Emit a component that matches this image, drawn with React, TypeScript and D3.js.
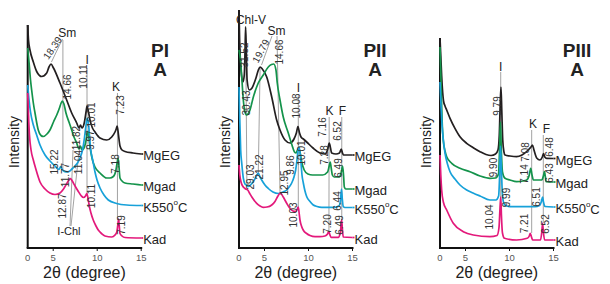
import React from 'react';
import * as d3 from 'd3';

type Pt = [number, number];
type Lab = [string, number, number];
type Guide = [number, number, number, number];

// x axis: the plotted 2θ range starts at ~2.1°, labelled "0" at the axis origin
const tickValues = [2.1, 5, 10, 15];
const tickLabels = ['0', '5', '10', '15'];
const seriesNames = ['MgEG', 'Mgad', 'K550', 'Kad'];
const seriesColors = ['#231f20', '#14934b', '#17a1d9', '#e3197b'];
const panelTitles = ['PI', 'PII', 'PIII'];

// ---------- Panel PI ----------
const p1MgEG: Pt[] = [
  [2.10, 223], [2.19, 208], [2.36, 198], [2.74, 186], [3.12, 176.5], [3.69, 171.5], [4.26, 175],
  [4.52, 181], [4.75, 184], [5.03, 180], [5.77, 165], [6.53, 148], [7.10, 135], [7.67, 125],
  [7.93, 120], [8.10, 123], [8.27, 120], [8.55, 126], [8.73, 136], [8.84, 142], [9.01, 136],
  [9.18, 128], [9.46, 120], [9.75, 116], [10.32, 110], [11.08, 108], [11.65, 111], [12.02, 116],
  [12.16, 119], [12.27, 122], [12.42, 113], [12.59, 102], [12.82, 98], [13.16, 96.5], [14.07, 95],
  [15.0, 94],
];
const p1Mgad: Pt[] = [
  [2.10, 200], [2.25, 186], [2.42, 168], [2.55, 158], [2.74, 145], [2.93, 135], [3.30, 118],
  [3.61, 112.5], [3.87, 111.5], [4.29, 114], [4.63, 118], [5.03, 126], [5.40, 133], [5.71, 140],
  [5.90, 145], [6.05, 147], [6.22, 144], [6.45, 135], [6.79, 126], [7.10, 118], [7.36, 111],
  [7.67, 105], [7.78, 102], [7.93, 99], [8.10, 102], [8.27, 98], [8.50, 100], [8.67, 105],
  [8.84, 113], [8.98, 117], [9.08, 108], [9.24, 98], [9.46, 88], [9.75, 81], [10.32, 75],
  [11.08, 70], [11.45, 70], [11.83, 71.5], [12.13, 78], [12.28, 86], [12.38, 90], [12.47, 82],
  [12.59, 70], [12.82, 67], [13.16, 65], [14.07, 64], [15.0, 63],
];
const p1K550: Pt[] = [
  [2.10, 163], [2.25, 148], [2.42, 136], [2.74, 123], [3.12, 113], [3.50, 103], [4.07, 93],
  [4.63, 87], [5.20, 82], [5.66, 78.5], [5.85, 81.5], [6.05, 78], [6.45, 76], [6.79, 76.5],
  [7.13, 79], [7.48, 82], [7.76, 85], [8.04, 90], [8.33, 98], [8.55, 110], [8.73, 123],
  [8.87, 130], [9.01, 124], [9.12, 113], [9.24, 100], [9.49, 88], [9.75, 76], [9.98, 68],
  [10.32, 60], [10.77, 53], [11.26, 48], [12.21, 44.5], [13.35, 43], [15.0, 42.5],
];
const p1Kad: Pt[] = [
  [2.10, 155], [2.19, 133], [2.30, 113], [2.48, 98], [2.74, 88], [2.99, 80], [3.50, 66],
  [4.07, 59], [4.63, 55], [5.20, 53.5], [5.77, 55], [6.17, 59], [6.51, 64], [6.79, 68],
  [6.96, 69.5], [7.13, 67.5], [7.48, 62], [7.82, 57], [8.16, 52.5], [8.44, 50.5], [8.67, 52],
  [8.82, 54.5], [8.95, 50], [9.10, 42], [9.29, 35], [9.55, 28], [9.86, 22], [10.12, 18],
  [10.49, 14.5], [10.88, 12], [11.65, 11], [12.02, 13], [12.23, 16], [12.34, 23], [12.43, 29],
  [12.51, 22], [12.59, 14.5], [12.82, 12], [13.16, 10.5], [15.0, 10],
];
const p1DLabels: Lab[] = [
  ['14.66', 6.62, 161], ['10.11', 8.41, 171.5], ['10.01', 9.35, 133], ['7.23', 12.70, 143],
  ['11.82', 7.59, 110], ['9.97', 9.29, 108], ['7.18', 12.03, 84], ['15.22', 5.20, 86],
  ['11.77', 6.35, 73], ['11.04', 7.82, 86], ['12.87', 6.11, 42], ['10.11', 9.33, 52],
  ['7.19', 12.76, 23],
];
const p1Slanted: Lab[] = [['18.39', 4.92, 200]];
const p1Minerals: Lab[] = [['Sm', 6.59, 215], ['I', 8.86, 188], ['K', 12.15, 161], ['I-Chl', 6.79, 17]];
const p1Guides: Guide[] = [
  [4.80, 186, 6.05, 209], [6.10, 208, 6.10, 78], [8.84, 180, 8.84, 54], [12.30, 155, 12.30, 28],
  [6.91, 22, 7.25, 98], [7.02, 22, 7.93, 96],
];

// ---------- Panel PII ----------
const p2MgEG: Pt[] = [
  [2.10, 238], [2.17, 208], [2.27, 186], [2.38, 173], [2.55, 166], [2.70, 173], [2.79, 198],
  [2.85, 221], [2.93, 198], [3.02, 168], [3.27, 158], [3.58, 160], [4.03, 170], [4.30, 178],
  [4.50, 181], [4.75, 179], [5.25, 171], [5.82, 151], [6.38, 128], [6.76, 118], [7.33, 108],
  [7.90, 105], [8.35, 109], [8.62, 115], [8.80, 121.5], [8.98, 115], [9.15, 111], [9.41, 109],
  [9.79, 106], [10.51, 100], [11.30, 95], [11.87, 94], [12.16, 98], [12.36, 105], [12.50, 100],
  [12.63, 95], [13.12, 94], [13.52, 95], [13.72, 99], [13.86, 95], [13.97, 93], [15.0, 93],
];
const p2Mgad: Pt[] = [
  [2.10, 198], [2.27, 188], [2.41, 171], [2.59, 148], [2.78, 136], [2.98, 133], [3.12, 134],
  [3.35, 138], [3.73, 151], [4.29, 165], [4.86, 173], [5.43, 181], [5.79, 183.5], [6.05, 184],
  [6.30, 178], [6.45, 165], [6.76, 148], [7.13, 131], [7.70, 115], [8.12, 103], [8.41, 96],
  [8.58, 95], [8.75, 98], [8.90, 100], [9.04, 96], [9.18, 88], [9.51, 78], [9.93, 74],
  [10.46, 73], [11.60, 73], [12.17, 76], [12.35, 82], [12.47, 86], [12.58, 80], [12.71, 73],
  [12.92, 71], [13.48, 71], [13.73, 76], [13.87, 82], [13.98, 73], [14.07, 61], [14.24, 59],
  [15.0, 59],
];
const p2K550: Pt[] = [
  [2.10, 161], [2.19, 128], [2.29, 98], [2.41, 85], [2.59, 70], [2.78, 64], [2.95, 63],
  [3.16, 61.5], [3.41, 63], [3.73, 66.5], [4.03, 71], [4.29, 75], [4.49, 71], [4.68, 68],
  [5.05, 63], [5.43, 59.5], [5.96, 56], [6.57, 54.5], [7.10, 56], [7.52, 58], [7.84, 61.5],
  [8.09, 65], [8.35, 71], [8.54, 78], [8.69, 88], [8.80, 97], [8.92, 101], [9.03, 96],
  [9.15, 85], [9.26, 73], [9.41, 65], [9.60, 57], [9.79, 51.5], [10.17, 46.5], [10.54, 43],
  [10.96, 41.5], [11.50, 40.7], [13.01, 40.7], [13.46, 42], [13.64, 48], [13.75, 59],
  [13.84, 49], [13.95, 41.5], [14.14, 40.5], [15.0, 40.5],
];
const p2Kad: Pt[] = [
  [2.10, 83], [2.19, 73], [2.33, 66], [2.55, 61.5], [2.78, 59.5], [3.09, 58], [3.29, 55],
  [3.54, 51.3], [4.11, 44.7], [4.49, 42], [4.86, 40.7], [5.28, 41], [5.82, 43], [6.19, 46.5],
  [6.53, 52], [6.76, 54.7], [6.95, 53.5], [7.13, 51], [7.52, 44.7], [7.90, 39.5], [8.24, 37],
  [8.54, 36.5], [8.71, 38.5], [8.83, 41], [8.92, 36], [9.03, 28], [9.23, 21.3], [9.43, 17.5],
  [9.79, 14.5], [10.17, 12.5], [10.74, 11.3], [11.30, 11.3], [11.87, 12], [12.16, 14],
  [12.30, 16.5], [12.42, 13.5], [12.56, 10.7], [13.38, 10.7], [13.61, 15], [13.71, 24],
  [13.77, 28], [13.84, 20], [13.95, 11], [15.0, 10.5],
];
const p2DLabels: Lab[] = [
  ['31.52', 2.67, 193], ['14.66', 6.65, 196], ['30.43', 2.95, 145], ['10.08', 8.58, 142],
  ['7.16', 11.59, 121], ['6.52', 13.29, 117], ['9.86', 8.01, 83], ['10.01', 9.20, 95],
  ['7.28', 11.87, 93], ['6.49', 13.46, 80], ['29.03', 3.41, 71], ['21.22', 4.43, 81],
  ['12.95', 7.27, 65], ['6.44', 13.29, 47], ['10.03', 8.29, 33], ['7.20', 12.21, 24],
  ['6.49', 13.52, 23],
];
const p2Slanted: Lab[] = [['19.79', 4.58, 197]];
const p2Minerals: Lab[] = [
  ['Chl-V', 3.46, 228], ['Sm', 6.36, 217], ['I', 8.86, 160], ['K', 12.38, 137], ['F', 13.86, 137],
];
const p2Guides: Guide[] = [
  [2.85, 222, 3.0, 62], [4.66, 183, 5.85, 212], [6.42, 212, 6.76, 56], [4.50, 181, 4.29, 75],
  [8.84, 154, 8.84, 41], [12.35, 131, 12.32, 17], [13.78, 131, 13.78, 28],
];

// ---------- Panel PIII ----------
const p3MgEG: Pt[] = [
  [2.10, 210], [2.19, 192], [2.29, 172], [2.40, 156], [2.50, 147], [2.67, 142], [2.86, 138],
  [3.24, 129.7], [3.80, 119.7], [4.37, 111.3], [5.13, 104.7], [5.88, 100.3], [6.65, 96.3],
  [7.33, 93.5], [7.90, 92.5], [8.41, 94], [8.69, 98], [8.84, 113], [8.94, 143], [9.03, 161],
  [9.12, 138], [9.23, 108], [9.37, 96], [9.49, 93], [10.05, 92], [10.81, 91.3], [11.42, 93],
  [12.13, 98], [12.44, 101], [12.61, 103], [12.78, 98], [13.09, 90], [13.46, 88], [13.73, 91],
  [13.86, 94.5], [14.01, 91], [14.23, 89.7], [15.0, 89.5],
];
const p3Mgad: Pt[] = [
  [2.10, 201], [2.18, 178], [2.27, 148], [2.36, 123], [2.48, 107], [2.67, 97], [2.86, 91.3],
  [3.43, 84.7], [4.37, 79.7], [5.51, 76.3], [6.65, 72], [7.78, 69.7], [8.41, 70], [8.75, 74],
  [8.87, 98], [8.97, 126], [9.07, 98], [9.20, 76], [9.49, 69.7], [10.05, 68], [10.81, 66.3],
  [11.53, 67], [11.95, 68], [12.25, 73], [12.41, 79.7], [12.56, 73], [12.71, 68], [13.67, 68],
  [13.85, 72], [13.97, 76.3], [14.08, 71], [14.16, 66.3], [15.0, 66],
];
const p3K550: Pt[] = [
  [2.10, 166], [2.21, 143], [2.33, 123], [2.48, 108], [2.67, 95], [2.95, 84], [3.24, 76.3],
  [3.80, 69], [4.37, 63], [5.13, 58], [5.85, 55], [6.65, 52], [7.78, 48], [8.46, 48],
  [8.76, 52], [8.88, 73], [8.97, 102], [9.08, 78], [9.20, 53], [9.37, 44.5], [9.67, 42],
  [10.28, 41.3], [12.90, 41.3], [13.41, 42.5], [13.64, 47], [13.76, 51], [13.86, 46],
  [14.03, 41.5], [15.0, 41],
];
const p3Kad: Pt[] = [
  [2.10, 93], [2.19, 73], [2.29, 58], [2.48, 46], [2.86, 38], [3.61, 24.7], [4.75, 16.3],
  [5.88, 13], [7.78, 11.3], [8.58, 12.5], [8.80, 20], [8.94, 43], [9.01, 51], [9.08, 33],
  [9.20, 15], [9.43, 9.7], [10.81, 8], [12.02, 9.7], [12.25, 12], [12.36, 14.7], [12.50, 11],
  [12.63, 8], [13.52, 8], [13.67, 16], [13.76, 24.7], [13.85, 16], [13.99, 8], [15.0, 8],
];
const p3DLabels: Lab[] = [
  ['9.79', 8.63, 142], ['7.08', 11.82, 96], ['6.48', 14.49, 101], ['9.90', 8.18, 80.5],
  ['7.14', 11.70, 74], ['6.43', 14.49, 75], ['9.99', 9.66, 50.5], ['6.51', 13.12, 51],
  ['10.04', 7.67, 31], ['7.21', 11.76, 24.5], ['6.52', 14.09, 24],
];
const p3Slanted: Lab[] = [];
const p3Minerals: Lab[] = [['I', 8.99, 181], ['K', 12.67, 124], ['F', 14.20, 119]];
const p3Guides: Guide[] = [
  [9.0, 176, 9.0, 48], [12.52, 118, 12.52, 15], [13.84, 113, 13.84, 25],
];

const panels = [
  { left: 27.7, series: [p1MgEG, p1Mgad, p1K550, p1Kad], dl: p1DLabels, sl: p1Slanted, sa: -55, mn: p1Minerals, gd: p1Guides },
  { left: 239, series: [p2MgEG, p2Mgad, p2K550, p2Kad], dl: p2DLabels, sl: p2Slanted, sa: -62, mn: p2Minerals, gd: p2Guides },
  { left: 440, series: [p3MgEG, p3Mgad, p3K550, p3Kad], dl: p3DLabels, sl: p3Slanted, sa: -60, mn: p3Minerals, gd: p3Guides },
];
const titleX = [160, 375, 577];

const FONT = "'Liberation Sans', Arial, Helvetica, sans-serif";

function Panel({ idx }: { idx: number }) {
  const p = panels[idx];
  const x = d3.scaleLinear().domain([2.1, 15]).range([p.left, p.left + 113.5]);
  const y = d3.scaleLinear().domain([0, 240]).range([248, 8]);
  const line = d3.line<Pt>().x(d => x(d[0])).y(d => y(d[1])).curve(d3.curveMonotoneX);
  const topY = y(d3.max(p.series, s => s[0][1]) as number);
  const x0 = x(2.1);
  const x1 = x(15);
  return (
    <g>
      {/* guide lines */}
      {p.gd.map((g, i) => (
        <line key={'g' + i} x1={x(g[0])} y1={y(g[1])} x2={x(g[2])} y2={y(g[3])}
          stroke="#8a8a8a" strokeWidth={0.8} />
      ))}
      {/* axes */}
      <line x1={x0} y1={248} x2={x0} y2={topY} stroke="#111" strokeWidth={2} />
      <line x1={x0 - 1} y1={248} x2={x1 + 1} y2={248} stroke="#111" strokeWidth={2} />
      {tickValues.map((t, i) => (
        <g key={'t' + i}>
          {i > 0 && <line x1={x(t)} x2={x(t)} y1={248} y2={251} stroke="#111" strokeWidth={1} />}
          <text x={x(t)} y={261} textAnchor="middle" fontSize={9.5} fill="#555" fontFamily={FONT}>{tickLabels[i]}</text>
        </g>
      ))}
      <text x={(x0 + x1) / 2} y={278} textAnchor="middle" fontSize={16} fill="#222" fontFamily={FONT}>2θ (degree)</text>
      <text transform={`translate(${x0 - 9},142) rotate(-90)`} textAnchor="middle" fontSize={14} fill="#222" fontFamily={FONT}>Intensity</text>
      {/* curves */}
      {p.series.map((s, i) => (
        <path key={'s' + i} d={line(s) || ''} fill="none" stroke={seriesColors[i]} strokeWidth={1.7} strokeLinejoin="round" />
      ))}
      {/* series names */}
      {p.series.map((s, i) => {
        const last = s[s.length - 1];
        const ly = y(last[1]) + 1.5;
        return (
          <g key={'n' + i}>
            <line x1={x1} x2={x1 + 2} y1={y(last[1])} y2={y(last[1])} stroke={seriesColors[i]} strokeWidth={1.7} />
            <text x={x1 + 2} y={ly} dominantBaseline="central" fontSize={13} fill="#222" fontFamily={FONT}>
              {seriesNames[i]}
              {seriesNames[i] === 'K550' && (
                <>
                  <tspan fontSize={8} dy={-5}>o</tspan>
                  <tspan dy={5}>C</tspan>
                </>
              )}
            </text>
          </g>
        );
      })}
      {/* d-spacing labels */}
      {p.dl.map((l, i) => (
        <text key={'d' + i} transform={`translate(${x(l[1])},${y(l[2])}) rotate(-90)`} textAnchor="middle"
          dominantBaseline="central" fontSize={10} fill="#333" fontFamily={FONT}>{l[0]}</text>
      ))}
      {p.sl.map((l, i) => (
        <text key={'sl' + i} transform={`translate(${x(l[1])},${y(l[2])}) rotate(${p.sa})`} textAnchor="middle"
          dominantBaseline="central" fontSize={10} fill="#333" fontFamily={FONT}>{l[0]}</text>
      ))}
      {p.mn.map((l, i) => (
        <text key={'m' + i} x={x(l[1])} y={y(l[2])} textAnchor="middle" dominantBaseline="central"
          fontSize={l[0] === 'I-Chl' ? 11 : 12} fill="#222" fontFamily={FONT}>{l[0]}</text>
      ))}
      {/* title */}
      <text x={titleX[idx]} y={57} textAnchor="middle" fontSize={19} fontWeight="bold" fill="#222" fontFamily={FONT}>{panelTitles[idx]}</text>
      <text x={titleX[idx]} y={76} textAnchor="middle" fontSize={19} fontWeight="bold" fill="#222" fontFamily={FONT}>A</text>
    </g>
  );
}

export default function App() {
  return (
    <svg width={610} height={284} viewBox="0 0 610 284"
      style={{ position: 'absolute', left: 0, top: 0, background: '#fff', display: 'block' }}>
      <rect x={0} y={0} width={610} height={284} fill="#fff" />
      {panels.map((_, i) => <Panel key={i} idx={i} />)}
    </svg>
  );
}
